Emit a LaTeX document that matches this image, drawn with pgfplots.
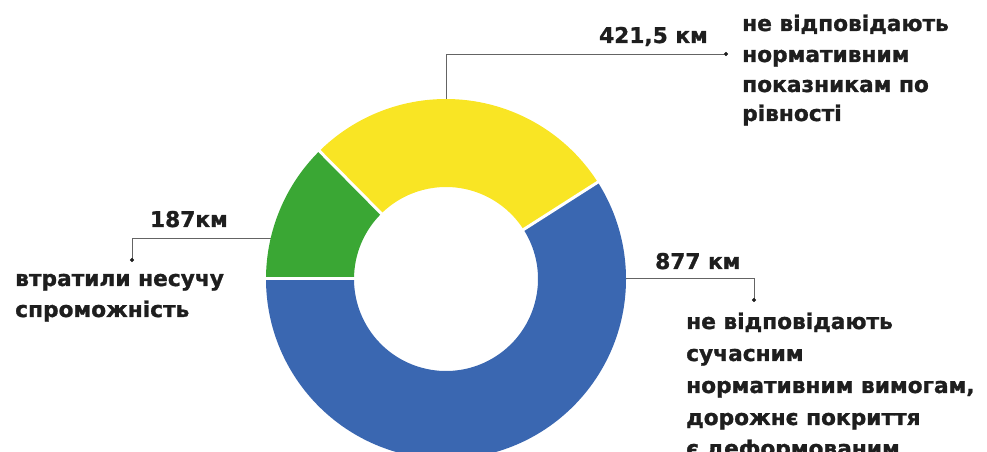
\documentclass[border=0pt]{standalone}
\usepackage{pgfplots}
\pgfplotsset{compat=1.18}
\usepackage{pgfplotstable}
\usepackage{fontspec}
\setmainfont{DejaVu Sans}[BoldFeatures={FakeBold=1.2}]

\definecolor{roadblue}{RGB}{58,103,177}
\definecolor{roadyellow}{RGB}{249,229,36}
\definecolor{roadgreen}{RGB}{58,167,52}
\definecolor{txt}{RGB}{30,30,30}
\definecolor{leader}{RGB}{100,100,100}

% road length, km
\pgfplotstableread{
part    value
blue    877
yellow  421.5
green   187
}\roads

\tikzset{lbl/.style={font=\fontsize{21.7}{25}\selectfont\bfseries, text=txt, inner sep=0pt}}

\newcommand\Rout{180}
\newcommand\Rin{92}
% sector from angle #1 to #2 in colour #3
\newcommand\sector[3]{%
  \fill[#3] ([shift={(#1:\Rout pt)}]ctr) arc[start angle=#1, end angle=#2, radius=\Rout pt]
    -- ([shift={(#2:\Rin pt)}]ctr) arc[start angle=#2, end angle=#1, radius=\Rin pt] -- cycle;}
% white gap at angle #1
\newcommand\gap[1]{%
  \draw[white, line width=3pt] ([shift={(#1:88pt)}]ctr) -- ([shift={(#1:184pt)}]ctr);}

\begin{document}
\begin{tikzpicture}
\pgfplotstablegetelem{0}{value}\of\roads \let\vBlue\pgfplotsretval
\pgfplotstablegetelem{1}{value}\of\roads \let\vYellow\pgfplotsretval
\pgfplotstablegetelem{2}{value}\of\roads \let\vGreen\pgfplotsretval
\pgfmathsetmacro\total{\vBlue+\vYellow+\vGreen}
\pgfmathsetmacro\aA{180}
\pgfmathsetmacro\aB{\aA+360*(\vBlue/\total)}
\pgfmathsetmacro\aC{\aB+360*(\vYellow/\total)}
\pgfmathsetmacro\aD{540}
\begin{axis}[
x=1pt, y=1pt,
xmin=0, xmax=987,
ymin=0, ymax=452,
scale only axis,
hide axis,
clip=false,
]
\coordinate (sw) at (axis cs:0,0);
\coordinate (ne) at (axis cs:987,452);
\coordinate (ctr) at (axis cs:446,173);

% leader lines
\addplot[leader, line width=0.8pt] coordinates {(446,300) (446,398) (724,398)};
\addplot[leader, line width=0.8pt] coordinates {(300,214) (132,214) (132,193)};
\addplot[leader, line width=0.8pt] coordinates {(600,174) (754,174) (754,153)};
\addplot[only marks, mark=*, mark size=1.8pt, txt] coordinates {(726,398) (132,192) (754,152)};

% donut
\sector{\aA}{\aB}{roadblue}
\sector{\aB}{\aC}{roadyellow}
\sector{\aC}{\aD}{roadgreen}
\gap{\aA}
\gap{\aB}
\gap{\aC}

% labels
\node[lbl, anchor=base east] at (axis cs:708,409) {421,5 км};
\node[lbl, anchor=base west] at (axis cs:742,421) {не відповідають};
\node[lbl, anchor=base west] at (axis cs:742,390) {нормативним};
\node[lbl, anchor=base west] at (axis cs:742,360) {показникам по};
\node[lbl, anchor=base west] at (axis cs:742,331) {рівності};

\node[lbl, anchor=base east] at (axis cs:228,225) {187км};
\node[lbl, anchor=base west] at (axis cs:15,166) {втратили несучу};
\node[lbl, anchor=base west] at (axis cs:15,135) {спроможність};

\node[lbl, anchor=base west] at (axis cs:655,183) {877 км};
\node[lbl, anchor=base west] at (axis cs:686,123) {не відповідають};
\node[lbl, anchor=base west] at (axis cs:686,91) {сучасним};
\node[lbl, anchor=base west] at (axis cs:686,59) {нормативним вимогам,};
\node[lbl, anchor=base west] at (axis cs:686,27) {дорожнє покриття};
\node[lbl, anchor=base west] at (axis cs:686,-4) {є деформованим};
\end{axis}
\pgfresetboundingbox
\path[use as bounding box] (sw) rectangle (ne);
\end{tikzpicture}
\end{document}
